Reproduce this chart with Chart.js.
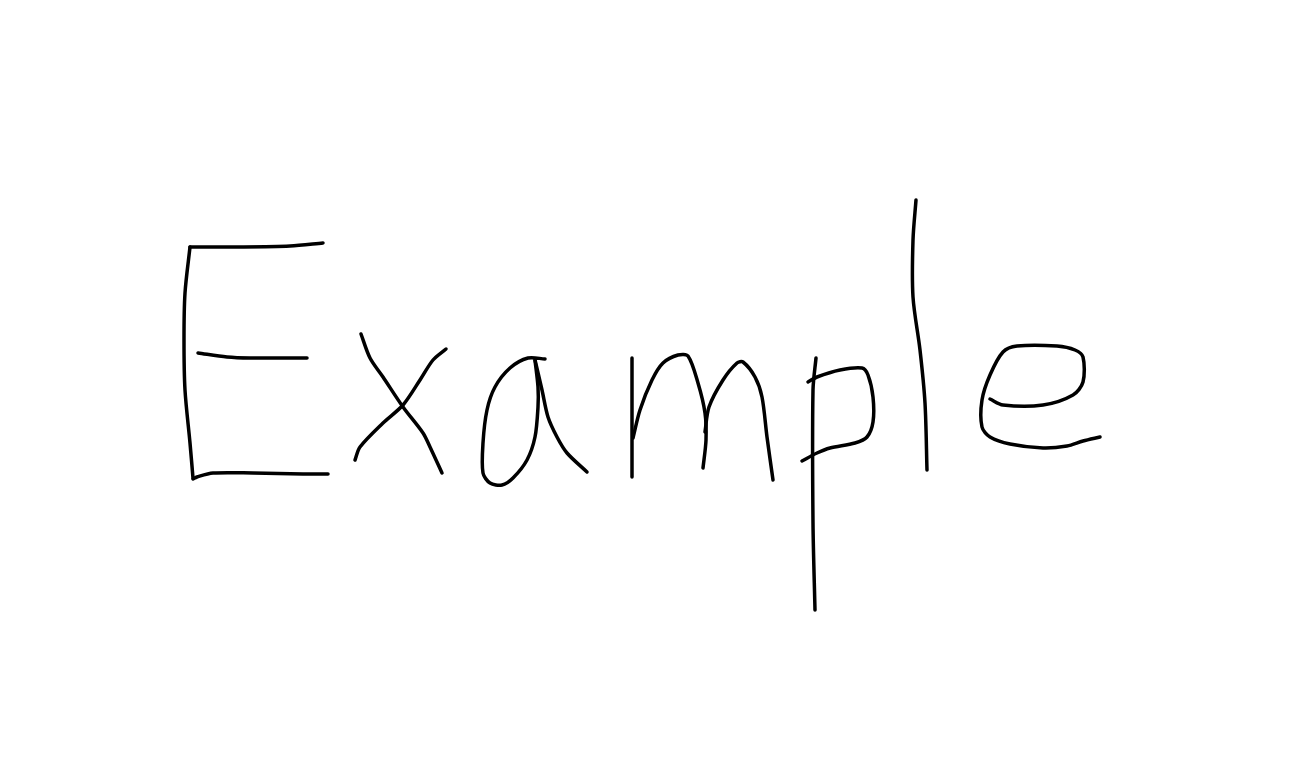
<!DOCTYPE html>
<html>
<head>
<meta charset="utf-8">
<title>Example</title>
<script src="https://cdn.jsdelivr.net/npm/chart.js@4/dist/chart.umd.min.js"></script>
<style>
  html, body { margin: 0; padding: 0; background: #fff; }
  #wrap { width: 1299px; height: 761px; }
</style>
</head>
<body>
<div id="wrap"><canvas id="chart"></canvas></div>
<script>
// hand drawn strokes, [x, y] (y grows downward)

// E
var strokeE_stem = [[190,247],[185,293],[184,340],[185,390],[190,443],[193,478]];
var strokeE_top = [[190,247],[237,247],[290,246],[323,243]];
var strokeE_mid = [[198,353],[227,357],[250,358],[307,358]];
var strokeE_bottom = [[193,479],[197,477],[213,473],[253,473],[303,474],[328,474]];

// x
var strokeX_1 = [[361,334],[370,358],[383,377],[403,407],[423,433],[430,447],[442,473]];
var strokeX_2 = [[446,349],[433,360],[420,380],[403,405],[383,423],[360,447],[355,460]];

// a
var strokeA_loop = [[545,359],[528,358],[510,368],[495,387],[487,410],[483,443],[483,473],[490,483],
                    [502,485],[513,478],[527,460],[535,437],[538,407],[538,387],[535,360]];
var strokeA_tail = [[535,360],[542,390],[548,417],[557,437],[567,453],[587,472]];

// m
var strokeM_stem = [[632,358],[632,477]];
var strokeM_arch1 = [[633,438],[640,410],[652,380],[663,363],[678,355],[688,356],[698,383],
                     [705,413],[706,440],[703,468]];
var strokeM_arch2 = [[705,432],[709,407],[723,380],[737,363],[743,362],[755,377],[762,397],
                     [767,437],[773,480]];

// p
var strokeP_stem = [[816,358],[813,390],[813,523],[815,610]];
var strokeP_bowl = [[808,382],[817,377],[840,370],[862,368],[868,375],[873,397],[873,422],
                    [867,437],[855,443],[830,448],[817,453],[802,461]];

// l
var strokeL = [[916,200],[913,240],[913,297],[920,350],[925,403],[927,470]];

// e
var strokeE2 = [[990,399],[1003,405],[1043,405],[1073,395],[1083,382],[1083,357],[1075,350],
                [1057,346],[1017,346],[1003,352],[990,375],[982,400],[982,427],[990,437],
                [1010,444],[1043,448],[1067,446],[1083,441],[1100,437]];

var strokes = [
    strokeE_stem, strokeE_top, strokeE_mid, strokeE_bottom,
    strokeX_1, strokeX_2,
    strokeA_loop, strokeA_tail,
    strokeM_stem, strokeM_arch1, strokeM_arch2,
    strokeP_stem, strokeP_bowl,
    strokeL,
    strokeE2
];

function createStroke(points)
{
    return {
        data: points.map(function (p) { return { x: p[0], y: p[1] }; }),
        showLine: true,
        borderColor: '#000',
        borderWidth: 3.5,
        borderCapStyle: 'round',
        borderJoinStyle: 'round',
        tension: 0.3,
        pointRadius: 0,
        fill: false
    };
}

new Chart(document.getElementById("chart"), {
    type: "scatter",
    data: { datasets: strokes.map(createStroke) },
    options: {
        responsive: true,
        maintainAspectRatio: false,
        animation: false,
        layout: { padding: 0 },
        plugins: {
            legend: { display: false },
            tooltip: { enabled: false }
        },
        scales: {
            x: { type: 'linear', min: 0, max: 1299, display: false },
            y: { type: 'linear', min: 0, max: 761, reverse: true, display: false }
        }
    }
});
</script>
</body>
</html>
